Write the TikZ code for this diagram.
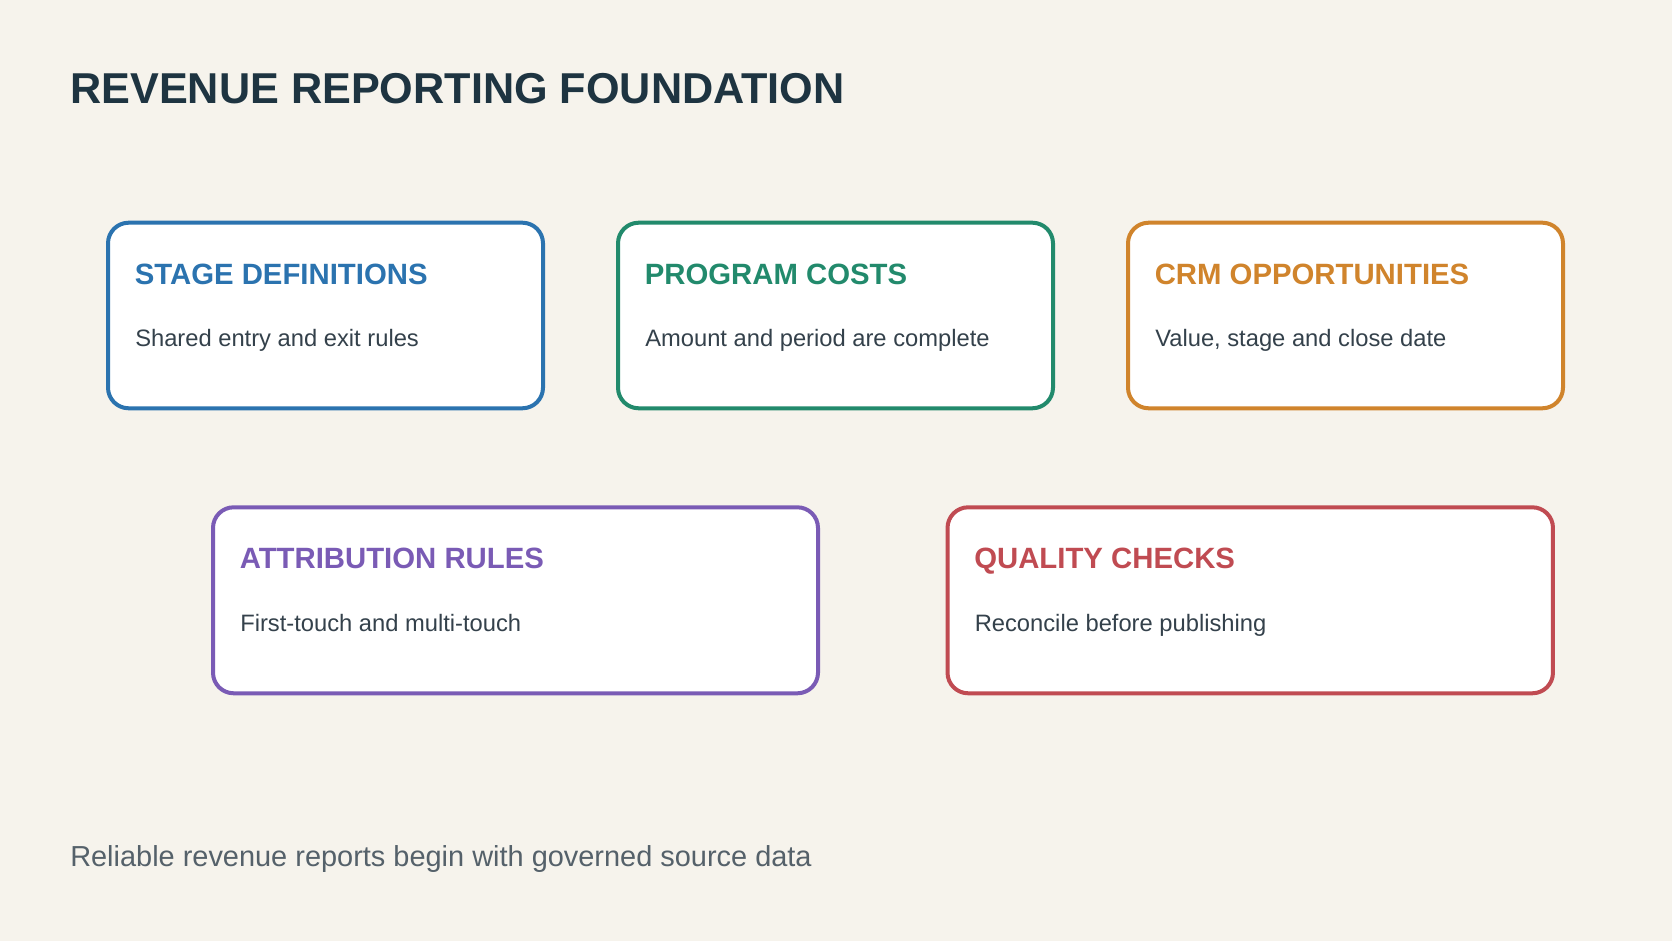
\documentclass[tikz,border=0pt]{standalone}
\usepackage{fontspec}
\setmainfont{Liberation Sans}
\usetikzlibrary{calc}
\definecolor{bgc}{HTML}{F6F3EC}
\definecolor{titlec}{HTML}{1E3441}
\definecolor{cblue}{HTML}{2B73AF}
\definecolor{cgreen}{HTML}{228A6C}
\definecolor{corange}{HTML}{D0842C}
\definecolor{cpurple}{HTML}{7A5BB5}
\definecolor{cred}{HTML}{C04B52}
\definecolor{subc}{HTML}{34414B}
\definecolor{footc}{HTML}{55616A}
\tikzset{
  card/.style={draw=#1, fill=white, line width=3pt, rounded corners=15.5pt, inner sep=0pt},
  cardtitle/.style={anchor=base west, inner sep=0pt, text=#1, font=\fontsize{22pt}{26pt}\selectfont\bfseries},
  cardsub/.style={anchor=base west, inner sep=0pt, text=subc, font=\fontsize{17.8pt}{21pt}\selectfont},
}
\begin{document}
\begin{tikzpicture}[x=0.75pt,y=-0.75pt]
\fill[bgc] (0,0) rectangle (1672,941);
\useasboundingbox (0,0) rectangle (1672,941);
\node[anchor=base west, inner sep=0pt, text=titlec, font=\fontsize{32.4pt}{38pt}\selectfont\bfseries] (title) at (70,104) {REVENUE REPORTING FOUNDATION};
% top row
\node[card=cblue, minimum width=326.25pt, minimum height=139.2pt] (b1) at (325.5,315.5) {};
\node[card=cgreen, minimum width=326.25pt, minimum height=139.2pt] (b2) at (835.5,315.5) {};
\node[card=corange, minimum width=326.25pt, minimum height=139.2pt] (b3) at (1345.5,315.5) {};
% bottom row
\node[card=cpurple, minimum width=453.75pt, minimum height=139.5pt] (b4) at (515.5,600.3) {};
\node[card=cred, minimum width=454.1pt, minimum height=139.5pt] (b5) at (1250.25,600.3) {};
% texts
\node[cardtitle=cblue] (t1) at ($(b1.north west)+(28.5,63.5)$) {STAGE DEFINITIONS};
\node[cardsub] (s1) at ($(b1.north west)+(29,126)$) {Shared entry and exit rules};
\node[cardtitle=cgreen] (t2) at ($(b2.north west)+(28.5,63.5)$) {PROGRAM COSTS};
\node[cardsub] (s2) at ($(b2.north west)+(29,126)$) {Amount and period are complete};
\node[cardtitle=corange] (t3) at ($(b3.north west)+(28.5,63.5)$) {CRM OPPORTUNITIES};
\node[cardsub] (s3) at ($(b3.north west)+(29,126)$) {Value, stage and close date};
\node[cardtitle=cpurple] (t4) at ($(b4.north west)+(28.5,63.5)$) {ATTRIBUTION RULES};
\node[cardsub] (s4) at ($(b4.north west)+(29,126)$) {First-touch and multi-touch};
\node[cardtitle=cred] (t5) at ($(b5.north west)+(28.5,63.5)$) {QUALITY CHECKS};
\node[cardsub] (s5) at ($(b5.north west)+(29,126)$) {Reconcile before publishing};
% footer
\node[anchor=base west, inner sep=0pt, text=footc, font=\fontsize{21.7pt}{25pt}\selectfont] (foot) at (70,866) {Reliable revenue reports begin with governed source data};
\end{tikzpicture}
\end{document}
